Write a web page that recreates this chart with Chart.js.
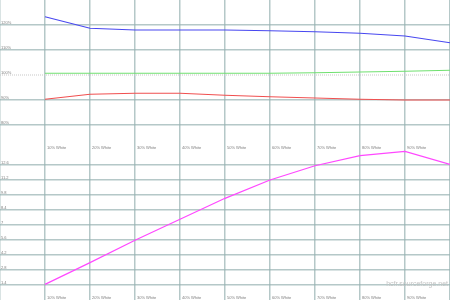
<!DOCTYPE html>
<html>
<head>
<meta charset="utf-8">
<script src="https://cdn.jsdelivr.net/npm/chart.js@4.4.0/dist/chart.umd.min.js"></script>
<style>
    body { margin: 0; background: #fff; }
    #wrap { position: relative; width: 450px; height: 300px; overflow: hidden; }
    canvas { display: block; }
</style>
</head>
<body>
<div id="wrap">
    <canvas id="topChart" width="450" height="150"></canvas>
    <canvas id="bottomChart" width="450" height="150"></canvas>
</div>
<script>
// 数据
const xSteps = [10, 20, 30, 40, 50, 60, 70, 80, 90, 100];
const xLabels = ['10% White', '20% White', '30% White', '40% White', '50% White',
                 '60% White', '70% White', '80% White', '90% White'];
const xGrid = [0, 10, 20, 30, 40, 50, 60, 70, 80, 90, 100];

const redValues   = [90.3, 92.3, 92.7, 92.7, 91.9, 91.3, 90.8, 90.3, 90.0, 90.0];
const greenValues = [100.7, 100.7, 100.7, 100.7, 100.7, 100.7, 100.9, 101.2, 101.5, 101.9];
const blueValues  = [123.3, 118.7, 118.0, 118.0, 118.0, 117.7, 117.3, 116.7, 115.6, 112.9];
const refValues   = [100, 100];
const refX        = [0, 100];

const topTicks      = [80, 90, 100, 110, 120];
const topTickLabels = ['80%', '90%', '100%', '110%', '120%'];

const magentaValues = [1.46, 3.49, 5.57, 7.53, 9.49, 11.2, 12.53, 13.47, 13.87, 12.66];
const bottomTicks      = [1.4, 2.8, 4.2, 5.6, 7, 8.4, 9.8, 11.2, 12.6];
const bottomTickLabels = ['1.4', '2.8', '4.2', '5.6', '7', '8.4', '9.8', '11.2', '12.6'];

const gridColor = 'rgba(150, 176, 176, 0.7)';

function toPoints(xs, ys) {
    return ys.map((v, i) => ({ x: xs[i], y: v }));
}

// 在图内画刻度文字
function labelPlugin(yTicks, yLabels, watermark) {
    return {
        id: 'insideLabels',
        afterDraw(chart) {
            const ctx = chart.ctx;
            const xs = chart.scales.x;
            const ys = chart.scales.y;
            ctx.save();
            ctx.fillStyle = '#808080';
            ctx.font = '4px "Liberation Sans", Arial, sans-serif';
            ctx.textAlign = 'left';
            ctx.textBaseline = 'bottom';
            yTicks.forEach((v, i) => {
                ctx.fillText(yLabels[i], 1, ys.getPixelForValue(v) - 0.5);
            });
            ctx.textBaseline = 'middle';
            xLabels.forEach((t, i) => {
                ctx.fillText(t, xs.getPixelForValue(xSteps[i]) + 2, chart.chartArea.bottom - 2);
            });
            if (watermark) {
                ctx.fillStyle = '#c4c4c4';
                ctx.font = '7px "Liberation Sans", Arial, sans-serif';
                ctx.textAlign = 'right';
                ctx.fillText(watermark, 448, chart.chartArea.bottom - 16);
            }
            ctx.restore();
        }
    };
}

function makeOptions(min, max, yTicks, hideValue) {
    return {
        responsive: false,
        animation: false,
        layout: { padding: 0 },
        plugins: { legend: { display: false }, tooltip: { enabled: false } },
        elements: { point: { radius: 0 }, line: { tension: 0, borderWidth: 1.2 } },
        scales: {
            x: {
                type: 'linear', min: 0, max: 100,
                afterBuildTicks: s => { s.ticks = xGrid.map(v => ({ value: v })); },
                ticks: { display: false },
                grid: { color: gridColor, lineWidth: 1.5, drawTicks: false },
                border: { display: false }
            },
            y: {
                min: min, max: max,
                afterBuildTicks: s => { s.ticks = yTicks.map(v => ({ value: v })); },
                ticks: { display: false },
                grid: {
                    color: c => (c.tick && c.tick.value === hideValue) ? 'rgba(0,0,0,0)' : gridColor,
                    lineWidth: 1.5, drawTicks: false
                },
                border: { display: false }
            }
        }
    };
}

// 上图：RGB 百分比
new Chart(document.getElementById('topChart'), {
    type: 'line',
    data: {
        datasets: [
            { data: toPoints(refX, refValues), borderColor: '#c8c8c8', borderWidth: 1, borderDash: [1, 1] },
            { data: toPoints(xSteps, redValues), borderColor: '#f05050' },
            { data: toPoints(xSteps, greenValues), borderColor: '#70e070' },
            { data: toPoints(xSteps, blueValues), borderColor: '#4848f0' }
        ]
    },
    options: makeOptions(70, 130, topTicks, 100),
    plugins: [labelPlugin(topTicks, topTickLabels, null)]
});

// 下图
new Chart(document.getElementById('bottomChart'), {
    type: 'line',
    data: {
        datasets: [
            { data: toPoints(xSteps, magentaValues), borderColor: '#ff48ff' }
        ]
    },
    options: makeOptions(0, 14, bottomTicks, null),
    plugins: [labelPlugin(bottomTicks, bottomTickLabels, 'hcfr.sourceforge.net')]
});
</script>
</body>
</html>
